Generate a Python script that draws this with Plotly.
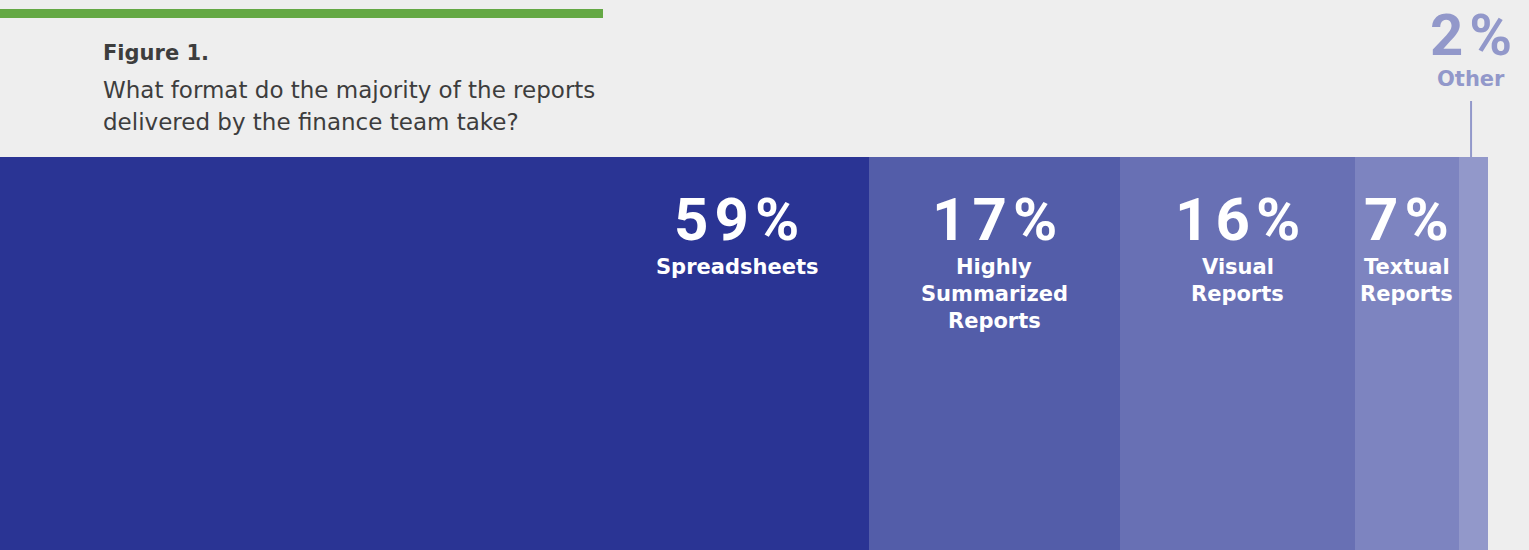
import plotly.graph_objects as go

categories = ["Spreadsheets", "Highly<br>Summarized<br>Reports", "Visual<br>Reports", "Textual<br>Reports", "Other"]
values = [59, 17, 16, 7, 2]
pct_labels = ["59%", "17%", "16%", "7%", "2%"]
colors = ["#2a3494", "#535da9", "#6870b4", "#7d84c0", "#9298ca"]

W, H = 1529, 550
total = sum(values)
xmax = total * W / 1488.0

fig = go.Figure()
start = 0
for cat, v, c in zip(categories, values, colors):
    fig.add_trace(go.Bar(
        y=[0], x=[v], base=[start], orientation="h", width=[1],
        marker=dict(color=c, line=dict(width=0)), name=cat.replace("<br>", " "),
        hoverinfo="skip",
    ))
    start += v

def py(px):
    return 1 - px / H

def spaced(s):
    return "\u200a".join(list(s))

ann = []
num_font = dict(family="Roboto", size=60, color="white", weight=700)
lab_font = dict(family="DejaVu Sans", size=21, color="white", weight=700)
start = 0
for i, (cat, v, p) in enumerate(zip(categories, values, pct_labels)):
    end = start + v
    if i == 0:
        cx = end - 9
    elif i == len(values) - 1:
        cx = start + v / 2 - 0.15
    else:
        cx = start + v / 2
    if i < len(values) - 1:
        ann.append(dict(x=cx, y=py(219), xref="x", yref="paper", text=spaced(p),
                        showarrow=False, font=num_font, xanchor="center", yanchor="middle"))
        for j, line in enumerate(cat.split("<br>")):
            ann.append(dict(x=cx, y=py(267 + 27 * j), xref="x", yref="paper", text=line,
                            showarrow=False, font=lab_font, xanchor="center", yanchor="middle"))
    else:
        ann.append(dict(x=cx, y=py(35), xref="x", yref="paper", text=spaced(p),
                        showarrow=False, font=dict(num_font, color=colors[-1], size=58),
                        xanchor="center", yanchor="middle"))
        ann.append(dict(x=cx, y=py(79), xref="x", yref="paper", text=cat,
                        showarrow=False, font=dict(lab_font, color=colors[-1]),
                        xanchor="center", yanchor="middle"))
        other_x = cx
    start = end

title_font = dict(family="DejaVu Sans", size=21, color="#3d3d3d")
body_font = dict(family="DejaVu Sans", size=23, color="#3d3d3d")
ann.append(dict(x=101 / W, y=py(53), xref="paper", yref="paper", text="<b>Figure 1.</b>",
                showarrow=False, font=title_font, xanchor="left", yanchor="middle"))
ann.append(dict(x=101 / W, y=py(90), xref="paper", yref="paper",
                text="What format do the majority of the reports",
                showarrow=False, font=body_font, xanchor="left", yanchor="middle"))
ann.append(dict(x=101 / W, y=py(122), xref="paper", yref="paper",
                text="delivered by the finance team take?",
                showarrow=False, font=body_font, xanchor="left", yanchor="middle"))

shapes = [
    dict(type="rect", xref="paper", yref="paper", x0=0, x1=603 / W, y0=py(18), y1=py(9),
         fillcolor="#64a844", line=dict(width=0)),
    dict(type="line", xref="x", yref="paper", x0=other_x, x1=other_x, y0=py(157), y1=py(101),
         line=dict(color=colors[-1], width=2)),
]

bar_frac = (H - 157) / H
r = 1.0 / bar_frac - 0.5

fig.update_layout(
    width=W, height=H, margin=dict(l=0, r=0, t=0, b=0),
    paper_bgcolor="#eeeeee", plot_bgcolor="#eeeeee",
    barmode="overlay", bargap=0, showlegend=False,
    xaxis=dict(range=[0, xmax], visible=False, fixedrange=True),
    yaxis=dict(range=[-0.5, r], visible=False, fixedrange=True),
    annotations=ann, shapes=shapes,
)

fig.write_html("out.html", config={"displayModeBar": False},
               post_script="document.body.style.margin='0';document.body.style.background='#eeeeee';")
